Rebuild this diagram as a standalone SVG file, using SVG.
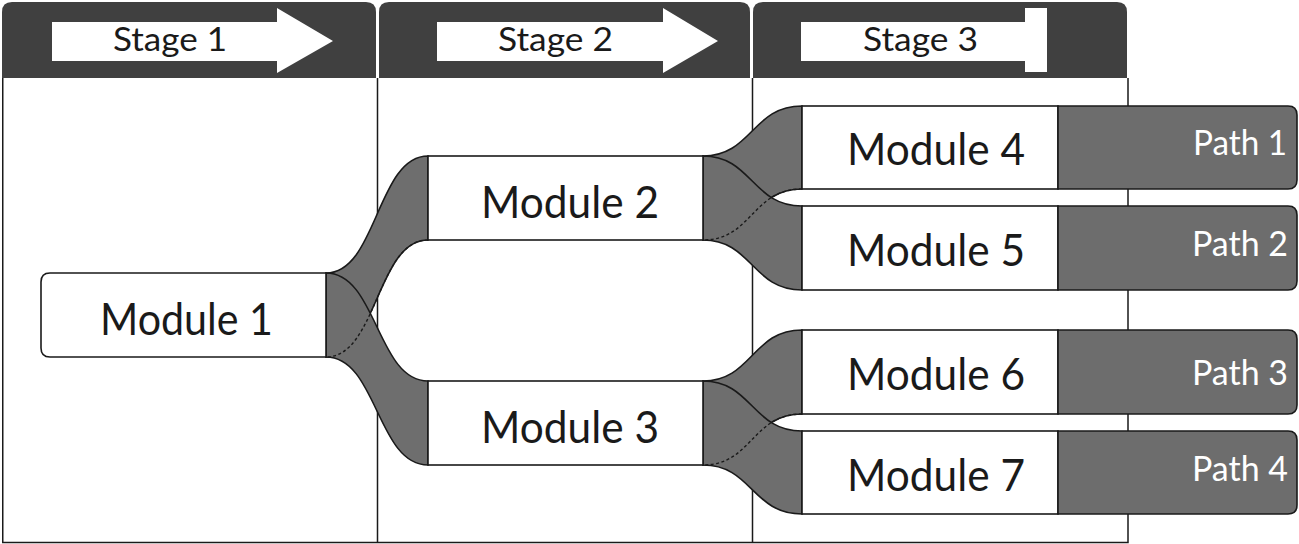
<svg xmlns="http://www.w3.org/2000/svg" width="1299" height="544" viewBox="0 0 1299 544">
  <style>
    .hdr { fill: #404040; }
    .arrow { fill: #ffffff; }
    .col { stroke: #1a1a1a; stroke-width: 1.5; fill: none; }
    .rib { fill: #6e6e6e; stroke: #1a1a1a; stroke-width: 1.6; }
    .dash { fill: none; stroke: #1a1a1a; stroke-width: 1.4; stroke-dasharray: 3 2.5; }
    .mod { fill: #ffffff; stroke: #1a1a1a; stroke-width: 1.6; }
    .path { fill: #6d6d6d; stroke: #1a1a1a; stroke-width: 1.6; }
    .stxt { font-family: Lato, "Open Sans", "Liberation Sans", sans-serif; font-size: 33px; fill: #1a1a1a; text-anchor: middle; }
    .mtxt { font-family: Lato, "Open Sans", "Liberation Sans", sans-serif; font-size: 44px; fill: #1a1a1a; text-anchor: middle; }
    .ptxt { font-family: Lato, "Open Sans", "Liberation Sans", sans-serif; font-size: 35px; fill: #ffffff; text-anchor: end; }
  </style>

  <g id="frame">
    <path class="col" d="M2.75 78 V542.5 H1128 V78 M377.5 78 V542.5 M752.5 78 V542.5"/>
  </g>

  <g id="stage1">
    <path class="hdr" d="M2 78 V12 Q2 2 12 2 H366 Q376 2 376 12 V78 Z"/>
    <polygon class="arrow" points="52,22 277,22 277,8 333,41 277,73 277,61 52,61"/>
    <text class="stxt" x="170" y="51" textLength="114" lengthAdjust="spacingAndGlyphs">Stage 1</text>
  </g>
  <g id="stage2">
    <path class="hdr" d="M379 78 V12 Q379 2 389 2 H740 Q750 2 750 12 V78 Z"/>
    <polygon class="arrow" points="437,22 663,22 663,8 718,41 663,73 663,61 437,61"/>
    <text class="stxt" x="555.5" y="51" textLength="115" lengthAdjust="spacingAndGlyphs">Stage 2</text>
  </g>
  <g id="stage3">
    <path class="hdr" d="M753 78 V12 Q753 2 763 2 H1117 Q1127 2 1127 12 V78 Z"/>
    <polygon class="arrow" points="801,22 1025,22 1025,8 1047,8 1047,72 1025,72 1025,61 801,61"/>
    <text class="stxt" x="920.5" y="51" textLength="115" lengthAdjust="spacingAndGlyphs">Stage 3</text>
  </g>

  <g id="connectors">
    <!-- Module 1 to Module 2 / Module 3 -->
    <path class="rib" d="M326 273 C377 273 377 156 428 156 L428 240 C377 240 377 357 326 357 Z"/>
    <path class="rib" d="M326 273 C377 273 377 381 428 381 L428 465 C377 465 377 357 326 357 Z"/>
    <path class="dash" d="M428 240 C377 240 377 357 326 357"/>
    <!-- Module 2 to Module 4 / Module 5 -->
    <path class="rib" d="M703 156 C752 156 752 106 802 106 L802 189 C752 189 752 240 703 240 Z"/>
    <path class="rib" d="M703 156 C752 156 752 206 802 206 L802 290 C752 290 752 240 703 240 Z"/>
    <path class="dash" d="M802 189 C752 189 752 240 703 240"/>
    <!-- Module 3 to Module 6 / Module 7 -->
    <path class="rib" d="M703 381 C752 381 752 330 802 330 L802 414 C752 414 752 465 703 465 Z"/>
    <path class="rib" d="M703 381 C752 381 752 431 802 431 L802 514 C752 514 752 465 703 465 Z"/>
    <path class="dash" d="M802 414 C752 414 752 465 703 465"/>
  </g>

  <g id="module1">
    <path class="mod" d="M326 273 V357 H50 Q41 357 41 348 V282 Q41 273 50 273 Z"/>
    <text class="mtxt" x="186.5" y="335" textLength="173" lengthAdjust="spacingAndGlyphs">Module 1</text>
  </g>
  <g id="module2">
    <rect class="mod" x="428" y="156" width="275" height="84"/>
    <text class="mtxt" x="570" y="218" textLength="178" lengthAdjust="spacingAndGlyphs">Module 2</text>
  </g>
  <g id="module3">
    <rect class="mod" x="428" y="381" width="275" height="84"/>
    <text class="mtxt" x="570" y="443" textLength="178" lengthAdjust="spacingAndGlyphs">Module 3</text>
  </g>
  <g id="module4">
    <rect class="mod" x="802" y="106" width="256" height="83"/>
    <text class="mtxt" x="936" y="165" textLength="178" lengthAdjust="spacingAndGlyphs">Module 4</text>
  </g>
  <g id="module5">
    <rect class="mod" x="802" y="206" width="256" height="84"/>
    <text class="mtxt" x="936" y="266" textLength="178" lengthAdjust="spacingAndGlyphs">Module 5</text>
  </g>
  <g id="module6">
    <rect class="mod" x="802" y="330" width="256" height="84"/>
    <text class="mtxt" x="936" y="390" textLength="178" lengthAdjust="spacingAndGlyphs">Module 6</text>
  </g>
  <g id="module7">
    <rect class="mod" x="802" y="431" width="256" height="83"/>
    <text class="mtxt" x="936" y="491" textLength="178" lengthAdjust="spacingAndGlyphs">Module 7</text>
  </g>

  <g id="path1">
    <path class="path" d="M1058 106 H1288 Q1297 106 1297 115 V180 Q1297 189 1288 189 H1058 Z"/>
    <text class="ptxt" x="1287" y="155" textLength="94" lengthAdjust="spacingAndGlyphs">Path 1</text>
  </g>
  <g id="path2">
    <path class="path" d="M1058 206 H1288 Q1297 206 1297 215 V281 Q1297 290 1288 290 H1058 Z"/>
    <text class="ptxt" x="1288" y="256" textLength="96" lengthAdjust="spacingAndGlyphs">Path 2</text>
  </g>
  <g id="path3">
    <path class="path" d="M1058 330 H1288 Q1297 330 1297 339 V405 Q1297 414 1288 414 H1058 Z"/>
    <text class="ptxt" x="1288" y="385" textLength="96" lengthAdjust="spacingAndGlyphs">Path 3</text>
  </g>
  <g id="path4">
    <path class="path" d="M1058 431 H1288 Q1297 431 1297 440 V505 Q1297 514 1288 514 H1058 Z"/>
    <text class="ptxt" x="1288" y="481" textLength="96" lengthAdjust="spacingAndGlyphs">Path 4</text>
  </g>
</svg>
